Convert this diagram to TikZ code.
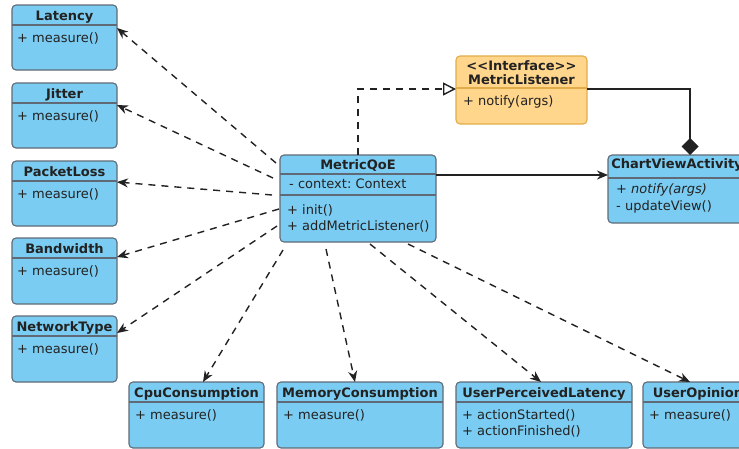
\documentclass[tikz,border=0pt]{standalone}
\usepackage{fontspec}
\setmainfont{DejaVu Sans}
\usetikzlibrary{arrows.meta}
\frenchspacing
\definecolor{clsfill}{RGB}{122,204,242}
\definecolor{clsline}{RGB}{96,106,118}
\definecolor{ifill}{RGB}{255,214,140}
\definecolor{iline}{RGB}{226,172,72}
\definecolor{ink}{RGB}{34,34,34}
\begin{document}
\begin{tikzpicture}[x=1pt,y=-1pt,
  cls/.style={draw=clsline, fill=clsfill, line width=1.1pt, rounded corners=4pt,
    inner sep=0pt, outer sep=0pt, anchor=north west},
  iface/.style={cls, draw=iline, fill=ifill},
  sep/.style={draw=clsline, line width=1.1pt},
  isep/.style={draw=iline, line width=1.1pt},
  ttl/.style={anchor=base, inner sep=0pt, text=ink, font=\fontsize{13}{16}\selectfont\bfseries},
  mem/.style={anchor=base west, inner sep=0pt, text=ink, font=\fontsize{13}{16}\selectfont},
  dep/.style={draw=ink, line width=1.4pt, dash pattern=on 7pt off 6pt,
    -{Stealth[length=11pt,width=9pt,inset=3.5pt]}},
  assoc/.style={draw=ink, line width=1.4pt, -{Stealth[length=11pt,width=9pt,inset=3.5pt]}},
  real/.style={draw=ink, line width=1.4pt, dash pattern=on 7pt off 6pt,
    -{Triangle[open,length=13pt,width=13pt,fill=white]}},
  comp/.style={draw=ink, line width=1.4pt, -{Diamond[length=17pt,width=17pt]}}]
\useasboundingbox (0,0) rectangle (739,448);

% ---- metric classes on the left ----
\node[cls, minimum width=105pt, minimum height=65pt] (lat) at (12,5) {};
\draw[sep] ([yshift=-20pt]lat.north west) -- ([yshift=-20pt]lat.north east);
\node[ttl] (lat-t) at ([yshift=-15pt]lat.north) {Latency};
\node[mem] (lat-m) at ([shift={(5pt,-37pt)}]lat.north west) {+ measure()};

\node[cls, minimum width=105pt, minimum height=65pt] (jit) at (12,83) {};
\draw[sep] ([yshift=-20pt]jit.north west) -- ([yshift=-20pt]jit.north east);
\node[ttl] (jit-t) at ([yshift=-15pt]jit.north) {Jitter};
\node[mem] (jit-m) at ([shift={(5pt,-37pt)}]jit.north west) {+ measure()};

\node[cls, minimum width=105pt, minimum height=65pt] (pkt) at (12,161) {};
\draw[sep] ([yshift=-20pt]pkt.north west) -- ([yshift=-20pt]pkt.north east);
\node[ttl] (pkt-t) at ([yshift=-15pt]pkt.north) {PacketLoss};
\node[mem] (pkt-m) at ([shift={(5pt,-37pt)}]pkt.north west) {+ measure()};

\node[cls, minimum width=105pt, minimum height=66pt] (bw) at (12,238) {};
\draw[sep] ([yshift=-20pt]bw.north west) -- ([yshift=-20pt]bw.north east);
\node[ttl] (bw-t) at ([yshift=-15pt]bw.north) {Bandwidth};
\node[mem] (bw-m) at ([shift={(5pt,-37pt)}]bw.north west) {+ measure()};

\node[cls, minimum width=105pt, minimum height=66pt] (net) at (12,316) {};
\draw[sep] ([yshift=-20pt]net.north west) -- ([yshift=-20pt]net.north east);
\node[ttl] (net-t) at ([yshift=-15pt]net.north) {NetworkType};
\node[mem] (net-m) at ([shift={(5pt,-37pt)}]net.north west) {+ measure()};

% ---- metric classes along the bottom ----
\node[cls, minimum width=135pt, minimum height=66pt] (cpu) at (129,382) {};
\draw[sep] ([yshift=-20pt]cpu.north west) -- ([yshift=-20pt]cpu.north east);
\node[ttl] (cpu-t) at ([yshift=-15pt]cpu.north) {CpuConsumption};
\node[mem] (cpu-m) at ([shift={(6pt,-37pt)}]cpu.north west) {+ measure()};

\node[cls, minimum width=166pt, minimum height=66pt] (memc) at (277,382) {};
\draw[sep] ([yshift=-20pt]memc.north west) -- ([yshift=-20pt]memc.north east);
\node[ttl] (memc-t) at ([yshift=-15pt]memc.north) {MemoryConsumption};
\node[mem] (memc-m) at ([shift={(6pt,-37pt)}]memc.north west) {+ measure()};

\node[cls, minimum width=176pt, minimum height=66pt] (upl) at (456,382) {};
\draw[sep] ([yshift=-20pt]upl.north west) -- ([yshift=-20pt]upl.north east);
\node[ttl] (upl-t) at ([yshift=-15pt]upl.north) {UserPerceivedLatency};
\node[mem] (upl-m1) at ([shift={(6pt,-37pt)}]upl.north west) {+ actionStarted()};
\node[mem] (upl-m2) at ([shift={(6pt,-53pt)}]upl.north west) {+ actionFinished()};

\node[cls, minimum width=110pt, minimum height=66pt] (uop) at (643,382) {};
\draw[sep] ([yshift=-20pt]uop.north west) -- ([yshift=-20pt]uop.north east);
\node[ttl] (uop-t) at ([yshift=-15pt]uop.north) {UserOpinion};
\node[mem] (uop-m) at ([shift={(6pt,-37pt)}]uop.north west) {+ measure()};

% ---- MetricQoE ----
\node[cls, minimum width=156pt, minimum height=87pt] (q) at (280,155) {};
\draw[sep] ([yshift=-19pt]q.north west) -- ([yshift=-19pt]q.north east);
\draw[sep] ([yshift=-40pt]q.north west) -- ([yshift=-40pt]q.north east);
\node[ttl] (q-t) at ([yshift=-14pt]q.north) {MetricQoE};
\node[mem] (q-a) at ([shift={(9pt,-33pt)}]q.north west) {- context: Context};
\node[mem] (q-m1) at ([shift={(7pt,-59pt)}]q.north west) {+ init()};
\node[mem] (q-m2) at ([shift={(7pt,-75pt)}]q.north west) {+ addMetricListener()};

% ---- MetricListener interface ----
\node[iface, minimum width=131pt, minimum height=68pt] (ml) at (456,56) {};
\draw[isep] ([yshift=-32pt]ml.north west) -- ([yshift=-32pt]ml.north east);
\node[ttl] (ml-s) at ([yshift=-14pt]ml.north) {{<}{<}Interface{>}{>}};
\node[ttl] (ml-t) at ([yshift=-28pt]ml.north) {MetricListener};
\node[mem] (ml-m) at ([shift={(7pt,-49pt)}]ml.north west) {+ notify(args)};

% ---- ChartViewActivity ----
\node[cls, minimum width=138pt, minimum height=68pt] (cva) at (608,155) {};
\draw[sep] ([yshift=-23pt]cva.north west) -- ([yshift=-23pt]cva.north east);
\node[ttl] (cva-t) at ([yshift=-13pt]cva.north) {ChartViewActivity};
\node[mem, font=\fontsize{13}{16}\selectfont\itshape] (cva-m1) at ([shift={(8pt,-38pt)}]cva.north west) {+ notify(args)};
\node[mem] (cva-m2) at ([shift={(8pt,-55pt)}]cva.north west) {- updateView()};

% ---- connector end points ----
\coordinate (q-lat) at (276,163);
\coordinate (q-jit) at (273,178);
\coordinate (q-pkt) at (272,195);
\coordinate (q-bw)  at (279,209);
\coordinate (q-net) at (277,226);
\coordinate (q-cpu) at (283,250);
\coordinate (q-mem) at (326,249);
\coordinate (q-upl) at (370,244);
\coordinate (q-uop) at (408,244);
\coordinate (lat-in) at ([yshift=-23pt]lat.north east);
\coordinate (jit-in) at ([yshift=-22pt]jit.north east);
\coordinate (pkt-in) at ([yshift=-21pt]pkt.north east);
\coordinate (bw-in)  at ([yshift=-19pt]bw.north east);
\coordinate (net-in) at ([yshift=-17pt]net.north east);
\coordinate (cpu-in) at (203,382);
\coordinate (memc-in) at (355,382);
\coordinate (upl-in) at (541,382);
\coordinate (uop-in) at (690,382);
\coordinate (ml-in)  at ([yshift=-33pt]ml.north west);
\coordinate (ml-out) at ([yshift=-33pt]ml.north east);
\coordinate (cva-top) at (690,155);
\coordinate (q-out) at ([yshift=-20pt]q.north east);

% ---- dependencies ----
\draw[dep] (q-lat) -- (lat-in);
\draw[dep] (q-jit) -- (jit-in);
\draw[dep] (q-pkt) -- (pkt-in);
\draw[dep] (q-bw)  -- (bw-in);
\draw[dep] (q-net) -- (net-in);
\draw[dep] (q-cpu) -- (cpu-in);
\draw[dep] (q-mem) -- (memc-in);
\draw[dep] (q-upl) -- (upl-in);
\draw[dep] (q-uop) -- (uop-in);

% ---- realization, association, composition ----
\draw[real] (q.north) |- (ml-in);
\draw[assoc] (q-out) -- (q-out -| cva.west);
\draw[comp] (ml-out) -| (cva-top);
\end{tikzpicture}
\end{document}
